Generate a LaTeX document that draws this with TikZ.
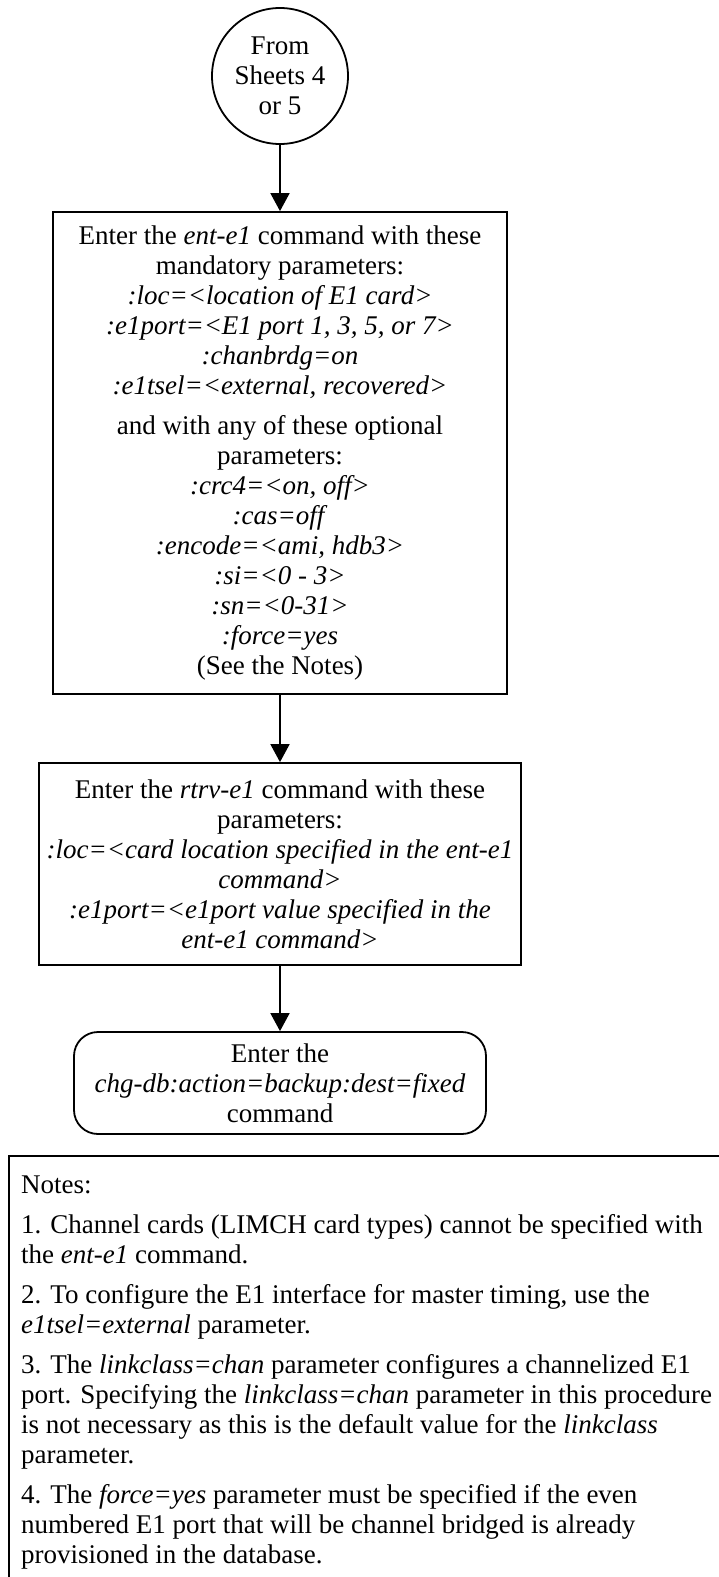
\documentclass[tikz,border=0pt]{standalone}
\usepackage{fontspec}
\setmainfont{Liberation Serif}
\usetikzlibrary{arrows.meta}
\begin{document}
\begin{tikzpicture}[x=1pt,y=-1pt,
  box/.style={draw, line width=1.8pt, inner sep=0pt, align=center, font=\fontsize{27}{30}\selectfont},
  arr/.style={line width=1.8pt, -{Triangle[length=18pt,width=19pt]}},
  note/.style={anchor=base west, inner sep=0pt, font=\fontsize{27}{30}\selectfont}]
\clip (0,0) rectangle (719,1577);
\fill[white] (0,0) rectangle (719,1577);
\node[box, circle, minimum size=136pt] (start) at (280,76) {From\\Sheets 4\\or 5};
\node[box, rectangle, minimum width=454pt, minimum height=482pt] (ent) at (280,453) {Enter the \textit{ent-e1} command with these\\
mandatory parameters:\\
\textit{:loc=<location of E1 card>}\\
\textit{:e1port=<E1 port 1, 3, 5, or 7>}\\
\textit{:chanbrdg=on}\\
\textit{:e1tsel=<external, recovered>}\\[10pt]
and with any of these optional\\
parameters:\\
\textit{:crc4=<on, off>}\\
\textit{:cas=off}\\
\textit{:encode=<ami, hdb3>}\\
\textit{:si=<0 - 3>}\\
\textit{:sn=<0-31>}\\
\textit{:force=yes}\\
(See the Notes)};
\node[box, rectangle, minimum width=482pt, minimum height=202pt] (rtrv) at (280,864) {Enter the \textit{rtrv-e1} command with these\\
parameters:\\
\textit{:loc=<card location specified in the ent-e1}\\
\textit{command>}\\
\textit{:e1port=<e1port value specified in the}\\
\textit{ent-e1 command>}};
\node[box, rectangle, rounded corners=24pt, minimum width=412pt, minimum height=102pt] (chg) at (280,1083) {Enter the\\
\textit{chg-db:action=backup:dest=fixed}\\
command};
\draw[arr] (start) -- (ent);
\draw[arr] (ent) -- (rtrv);
\draw[arr] (rtrv) -- (chg);
\draw[line width=1.8pt] (730,1156) -- (9,1156) -- (9,1590);
\node[note] (n0) at (21,1193) {Notes:};
\node[note] (n1) at (21,1233) {1. Channel cards (LIMCH card types) cannot be specified with};
\node[note] (n2) at (21,1263) {the \textit{ent-e1} command.};
\node[note] (n3) at (21,1303) {2. To configure the E1 interface for master timing, use the};
\node[note] (n4) at (21,1333) {\textit{e1tsel=external} parameter.};
\node[note] (n5) at (21,1373) {3. The \textit{linkclass=chan} parameter configures a channelized E1};
\node[note] (n6) at (21,1403) {port.  Specifying the \textit{linkclass=chan} parameter in this procedure};
\node[note] (n7) at (21,1433) {is not necessary as this is the default value for the \textit{linkclass}};
\node[note] (n8) at (21,1463) {parameter.};
\node[note] (n9) at (21,1503) {4. The \textit{force=yes} parameter must be specified if the even};
\node[note] (n10) at (21,1533) {numbered E1 port that will be channel bridged is already};
\node[note] (n11) at (21,1563) {provisioned in the database.};
\end{tikzpicture}
\end{document}
